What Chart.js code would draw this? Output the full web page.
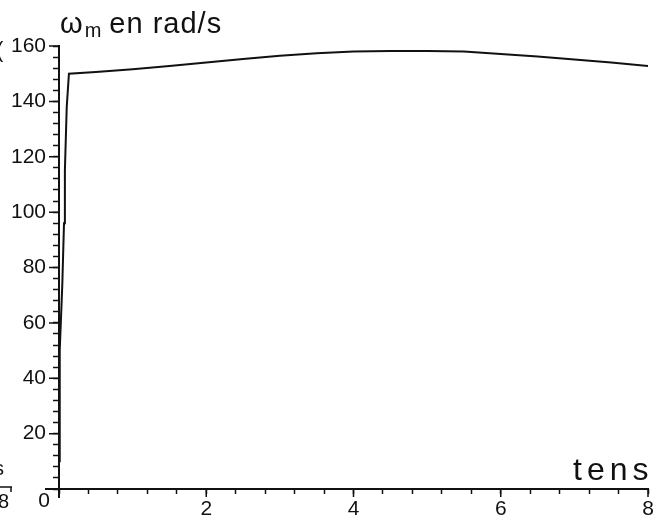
<!DOCTYPE html>
<html>
<head>
<meta charset="utf-8">
<script src="https://cdn.jsdelivr.net/npm/chart.js@4"></script>
<style>
  html, body { margin: 0; padding: 0; background: #fff; }
  #wrap { width: 659px; height: 517px; }
</style>
</head>
<body>
<div id="wrap"><canvas id="myChart"></canvas></div>
<script>
// motor speed (rad/s) against time (s)
const time  = [0, 0.01, 0.045, 0.068, 0.08, 0.105, 0.135, 0.5, 1, 1.5, 2, 2.5, 3, 3.5, 4, 4.5, 5, 5.5, 6, 6.5, 7, 7.5, 8];
const omega = [10, 50, 74, 96, 115, 138, 150, 150.6, 151.6, 152.8, 154, 155.3, 156.5, 157.4, 158, 158.2, 158.2, 158, 157.1, 156.2, 155.1, 154, 152.8];

const xMin = 0, xMax = 8, xStep = 0.4, xLabelEvery = 2;
const yMin = 0, yMax = 160, yStep = 4, yLabelEvery = 20;

const yTitle = 'ω';
const yTitleSub = 'm';
const yTitleRest = ' en rad/s';
const xTitle = 'tens';

const FONT = '"Liberation Sans", Arial, sans-serif';
const INK = '#111';

const isMultiple = (v, m) => Math.abs(v - Math.round(v / m) * m) < 1e-6;

// axes lines, titles, and the origin label
const decor = {
  id: 'decor',
  afterDraw(chart) {
    const ctx = chart.ctx;
    const xs = chart.scales.x, ys = chart.scales.y;
    const x0 = xs.getPixelForValue(0), y0 = ys.getPixelForValue(0);
    const yTop = ys.getPixelForValue(yMax);
    ctx.save();
    ctx.strokeStyle = INK;
    ctx.lineWidth = 2;
    ctx.beginPath();
    ctx.moveTo(x0, yTop - 1);
    ctx.lineTo(x0, y0 + 9);
    ctx.moveTo(x0 - 14, y0);
    ctx.lineTo(xs.getPixelForValue(xMax) + 1, y0);
    ctx.stroke();

    // longer marks at the labelled ticks
    ctx.lineWidth = 1.5;
    ctx.beginPath();
    for (let v = yLabelEvery; v <= yMax; v += yLabelEvery) {
      const p = ys.getPixelForValue(v);
      ctx.moveTo(x0 - 10, p); ctx.lineTo(x0, p);
    }
    for (let v = xLabelEvery; v <= xMax; v += xLabelEvery) {
      const p = xs.getPixelForValue(v);
      ctx.moveTo(p, y0); ctx.lineTo(p, y0 + 8);
    }
    ctx.stroke();

    ctx.fillStyle = INK;
    ctx.textBaseline = 'alphabetic';
    // y title
    ctx.font = '29px ' + FONT;
    ctx.textAlign = 'left';
    let tx = x0 + 1;
    ctx.fillText(yTitle, tx, 33);
    tx += ctx.measureText(yTitle).width + 2;
    ctx.font = '20px ' + FONT;
    ctx.fillText(yTitleSub, tx, 37);
    tx += ctx.measureText(yTitleSub).width - 1;
    ctx.font = '29px ' + FONT;
    ctx.letterSpacing = '1px';
    ctx.fillText(yTitleRest, tx, 33);
    // x title
    ctx.font = '32px ' + FONT;
    ctx.letterSpacing = '5px';
    ctx.fillText(xTitle, 573, 480);
    ctx.letterSpacing = '0px';
    // origin label
    ctx.font = '21px ' + FONT;
    ctx.textAlign = 'right';
    ctx.fillText('0', x0 - 9, 507);
    // fragments of the neighbouring figure at the left edge
    ctx.font = '20px ' + FONT;
    ctx.textAlign = 'left';
    ctx.fillText('s', -6, 475);
    ctx.fillText('8', -2, 508);
    ctx.lineWidth = 1.5;
    ctx.beginPath();
    ctx.moveTo(0, 487); ctx.lineTo(12, 487);
    ctx.moveTo(11, 487); ctx.lineTo(11, 492);
    ctx.stroke();
    ctx.font = '22px ' + FONT;
    ctx.fillText('(', -4, 57);
    ctx.restore();
  }
};

new Chart(document.getElementById('myChart'), {
  type: 'line',
  data: {
    datasets: [{
      data: time.map((t, i) => ({ x: t, y: omega[i] })),
      borderColor: INK,
      borderWidth: 2,
      pointRadius: 0,
      tension: 0,
      fill: false
    }]
  },
  options: {
    responsive: true,
    maintainAspectRatio: false,
    animation: false,
    layout: { padding: { top: 46, right: 11, left: 0, bottom: 0 } },
    plugins: { legend: { display: false }, tooltip: { enabled: false } },
    scales: {
      x: {
        type: 'linear',
        min: xMin, max: xMax,
        border: { display: false },
        grid: { drawOnChartArea: false, drawTicks: true, tickLength: 5, tickColor: INK, tickWidth: 1.5 },
        ticks: {
          stepSize: xStep,
          autoSkip: false,
          maxRotation: 0,
          padding: 3,
          color: INK,
          font: { family: FONT, size: 21 },
          callback: (v) => (v !== 0 && isMultiple(v, xLabelEvery)) ? String(Math.round(v)) : ''
        },
        afterFit: (s) => { s.height = 28; }
      },
      y: {
        type: 'linear',
        min: yMin, max: yMax,
        border: { display: false },
        grid: { drawOnChartArea: false, drawTicks: true, tickLength: 6, tickColor: INK, tickWidth: 1.5 },
        ticks: {
          stepSize: yStep,
          autoSkip: false,
          padding: 7,
          color: INK,
          font: { family: FONT, size: 21 },
          callback: (v) => (v !== 0 && isMultiple(v, yLabelEvery)) ? String(Math.round(v)) : ''
        },
        afterFit: (s) => { s.width = 59; }
      }
    }
  },
  plugins: [decor]
});
</script>
</body>
</html>
